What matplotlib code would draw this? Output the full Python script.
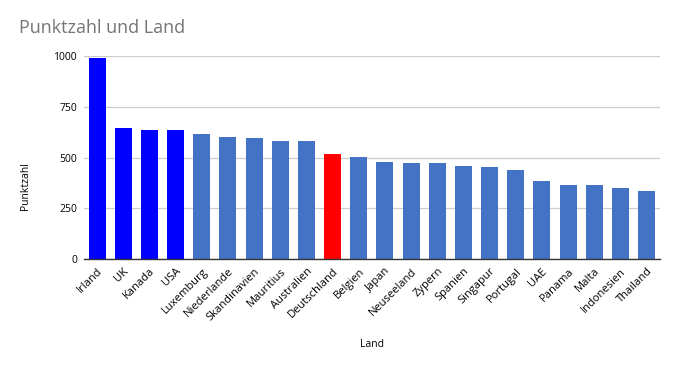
import matplotlib.pyplot as plt

plt.rcParams['font.family'] = ['Open Sans', 'DejaVu Sans']

# Data
laender = ['Irland', 'UK', 'Kanada', 'USA', 'Luxemburg', 'Niederlande',
           'Skandinavien', 'Mauritius', 'Australien', 'Deutschland', 'Belgien',
           'Japan', 'Neuseeland', 'Zypern', 'Spanien', 'Singapur', 'Portugal',
           'UAE', 'Panama', 'Malta', 'Indonesien', 'Thailand']
punktzahl = [990, 645, 637, 637, 616, 602, 596, 583, 583, 518, 504,
             479, 474, 474, 459, 454, 440, 385, 365, 365, 350, 336]
yticks = [0, 250, 500, 750, 1000]

colors = []
for name in laender:
    if name in ('Irland', 'UK', 'Kanada', 'USA'):
        colors.append('#0000FF')
    elif name == 'Deutschland':
        colors.append('#FF0000')
    else:
        colors.append('#4472C4')

fig = plt.figure(figsize=(6.78, 3.71), dpi=100)
ax = fig.add_axes([0.124, 0.302, 0.849, 0.546])

ax.bar(range(len(laender)), punktzahl, width=0.65, color=colors, zorder=3)

ax.set_xlim(-0.5, len(laender) - 0.5)
ax.set_ylim(0, 1000)
ax.set_yticks(yticks)
ax.set_yticklabels([str(v) for v in yticks], fontsize=7.5)
ax.set_xticks(range(len(laender)))
ax.set_xticklabels(laender, rotation=45, ha='right', rotation_mode='anchor',
                   fontsize=8)
ax.tick_params(axis='both', length=0, pad=5)

ax.grid(axis='y', color='#cccccc', linewidth=0.9, zorder=0)
for s in ['top', 'right', 'left']:
    ax.spines[s].set_visible(False)
ax.spines['bottom'].set_color('#333333')
ax.spines['bottom'].set_linewidth(1.0)
ax.spines['bottom'].set_zorder(4)

ax.set_ylabel('Punktzahl', fontsize=7.5)
ax.yaxis.set_label_coords(-0.092, 0.36)
ax.set_xlabel('Land', fontsize=7.5, labelpad=12)
fig.text(0.028, 0.925, 'Punktzahl und Land', fontsize=13, color='#757575',
         va='center', ha='left')

fig.savefig('out.png', dpi=100)
